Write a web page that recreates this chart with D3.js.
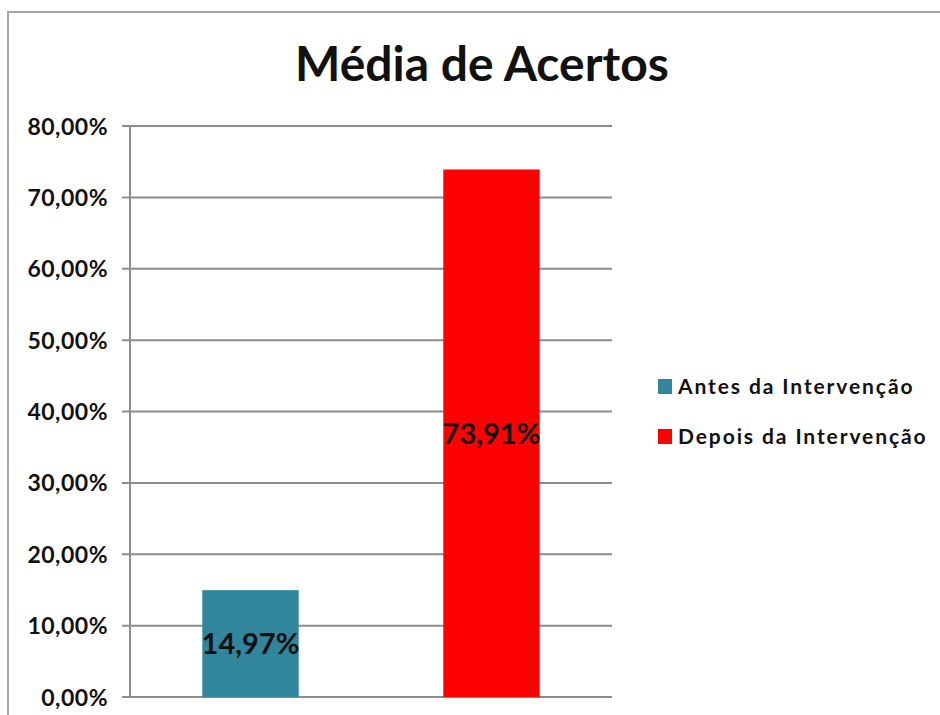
<!DOCTYPE html>
<html>
<head>
<meta charset="utf-8">
<script src="https://cdn.jsdelivr.net/npm/d3@7"></script>
<style>
  body { margin: 0; background: #fff; }
  text { font-family: Lato, "Open Sans", sans-serif; font-weight: bold; fill: #111; }
</style>
</head>
<body>
<div id="chart-container"></div>
<script>
// chart values
const seriesNames = ["Antes da Intervenção", "Depois da Intervenção"];
const seriesValues = [14.97, 73.91];
const seriesColors = ["#31859c", "#ff0000"];
const valueLabels = ["14,97%", "73,91%"];
const yTicks = [0, 10, 20, 30, 40, 50, 60, 70, 80];
const chartTitle = "Média de Acertos";

// dimensions
const W = 940, H = 715;
const margin = { top: 126, left: 130, right: 328, bottom: 18 };
const width = W - margin.left - margin.right;
const height = H - margin.top - margin.bottom;

const svg = d3.select("#chart-container")
  .append("svg")
  .attr("width", W)
  .attr("height", H);

// outer frame (left and top edges are visible)
svg.append("path")
  .attr("d", `M8,${H} L8,12 L${W},12`)
  .attr("fill", "none")
  .attr("stroke", "#a6a6a6")
  .attr("stroke-width", 2);

// title
svg.append("text")
  .attr("x", 482)
  .attr("y", 81)
  .attr("text-anchor", "middle")
  .style("font-size", "48px")
  .text(chartTitle);

const g = svg.append("g")
  .attr("transform", `translate(${margin.left},${margin.top})`);

// scales
const x = d3.scaleBand()
  .domain(seriesNames)
  .range([0, width])
  .paddingInner(0.6)
  .paddingOuter(0.3);

const y = d3.scaleLinear()
  .domain([0, 80])
  .range([height, 0]);

// gridlines
g.append("g")
  .selectAll("line")
  .data(yTicks)
  .join("line")
  .attr("x1", -8)
  .attr("x2", width)
  .attr("y1", d => y(d))
  .attr("y2", d => y(d))
  .attr("stroke", "#8c8c8c")
  .attr("stroke-width", 2);

// y axis line
g.append("line")
  .attr("x1", 0).attr("x2", 0)
  .attr("y1", 0).attr("y2", height)
  .attr("stroke", "#8c8c8c")
  .attr("stroke-width", 2);

// y axis labels
const yAxis = d3.axisLeft(y)
  .tickValues(yTicks)
  .tickSize(0)
  .tickPadding(22)
  .tickFormat(d => d3.format(".2f")(d).replace(".", ",") + "%");

g.append("g")
  .call(yAxis)
  .call(a => a.select(".domain").remove())
  .call(a => a.selectAll("text")
    .style("font-size", "23px")
    .style("letter-spacing", "0.5px")
    .attr("dy", "0.35em")
    .style("fill", "#111"));

// bars
g.selectAll("rect.bar")
  .data(seriesNames)
  .join("rect")
  .attr("class", "bar")
  .attr("x", d => x(d))
  .attr("width", x.bandwidth())
  .attr("y", (d, i) => y(seriesValues[i]))
  .attr("height", (d, i) => height - y(seriesValues[i]))
  .attr("fill", (d, i) => seriesColors[i]);

// value labels, centred in each bar
g.selectAll("text.value")
  .data(seriesNames)
  .join("text")
  .attr("class", "value")
  .attr("x", d => x(d) + x.bandwidth() / 2)
  .attr("y", (d, i) => (y(seriesValues[i]) + height) / 2)
  .attr("dy", "0.36em")
  .attr("text-anchor", "middle")
  .style("font-size", "29px")
  .text((d, i) => valueLabels[i]);

// legend
const legend = svg.append("g")
  .attr("transform", "translate(658,379)");

const item = legend.selectAll("g")
  .data(seriesNames)
  .join("g")
  .attr("transform", (d, i) => `translate(0,${i * 50})`);

item.append("rect")
  .attr("width", 14)
  .attr("height", 15)
  .attr("fill", (d, i) => seriesColors[i]);

item.append("text")
  .attr("x", 20)
  .attr("y", 8)
  .attr("dy", "0.35em")
  .style("font-size", "21px")
  .style("letter-spacing", "1.9px")
  .text(d => d);
</script>
</body>
</html>
